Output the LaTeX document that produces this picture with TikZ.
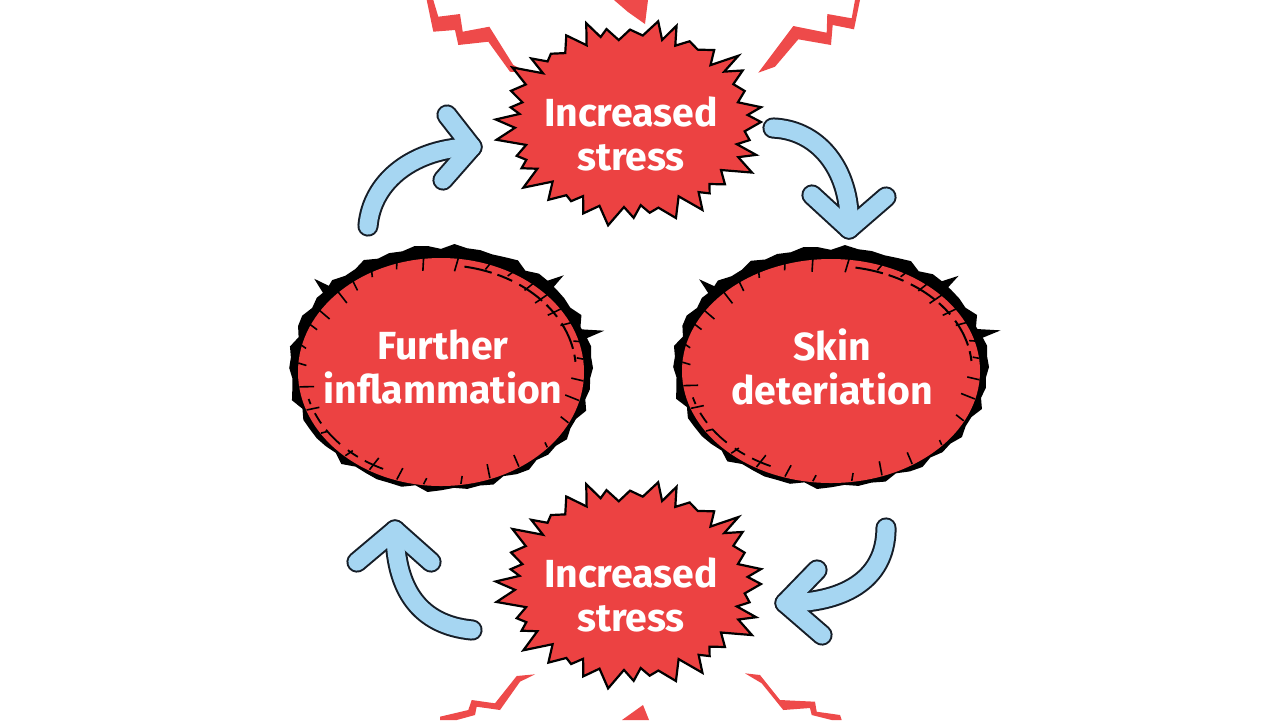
\documentclass[tikz,border=0pt]{standalone}
\usepackage{fontspec}
\setmainfont{Fira Sans}
\definecolor{burst}{RGB}{236,66,66}
\definecolor{bolt}{RGB}{238,74,74}
\definecolor{sky}{RGB}{166,214,242}
\definecolor{ink}{RGB}{22,30,40}
\newcommand\mkburst[4]{%
  \draw[burstshape] ({#1+#3},{#2})
    \foreach \i [evaluate=\i as \f using {mod(\i,2)==0 ? 1.0+0.07*sin(\i*131) : 0.87+0.03*cos(\i*71)}] in {1,...,71}
      { -- ({#1+#3*\f*cos(\i*5+1.5*sin(\i*53))},{#2+#4*\f*sin(\i*5+1.5*sin(\i*53))}) } -- cycle;}
\newcommand\mkblob[4]{%
  \fill[black] ({#1+#3+1},{#2-3})
    \foreach \i [evaluate=\i as \g using {1.0+0.015*sin(\i*211)+0.012*cos(\i*97)}] in {1,...,71}
      { -- ({#1+#3*\g*cos(\i*5)},{#2-3+#4*\g*sin(\i*5)}) } -- cycle;
  \fill[burst] (#1,{#2+1}) ellipse [x radius={#3-8}, y radius={#4-8}];
  \foreach \a in {192,203,211,223,231,240,251,262,276,289,299,309,317,326,334,344,353,4,14,26,41,56,69,81,96,107,119,131,146,159,171,183}
    \draw[black, line width=0.8pt] ({#1+(#3-18-5*sin(\a*7))*cos(\a)},{#2+(#4-18-5*sin(\a*7))*sin(\a)}) -- ({#1+(#3-8)*cos(\a+1)},{#2+(#4-8)*sin(\a+1)});
  \draw[black, line width=1pt, dash pattern=on 14pt off 3pt on 8pt off 4pt] ({#1+(#3-16)*cos(280)},{#2+(#4-16)*sin(280)}) arc [start angle=280, end angle=355, x radius={#3-16}, y radius={#4-16}];
  \draw[black, line width=0.9pt, dash pattern=on 10pt off 4pt on 6pt off 5pt] ({#1+(#3-14)*cos(115)},{#2+(#4-14)*sin(115)}) arc [start angle=115, end angle=165, x radius={#3-14}, y radius={#4-14}];
  \foreach \a in {222,316,343}
    \fill[black] ({#1+#3*0.96*cos(\a-4)},{#2+#4*0.96*sin(\a-4)}) -- ({#1+#3*1.13*cos(\a)},{#2+#4*1.13*sin(\a)}) -- ({#1+#3*0.96*cos(\a+2)},{#2+#4*0.96*sin(\a+2)}) -- cycle;}
\begin{document}
\begin{tikzpicture}[x=0.5pt,y=-0.5pt,
  burstshape/.style={fill=burst, draw=black, line width=1.1pt, line join=miter},
  boltshape/.style={fill=bolt, draw=none},
  arrowout/.style={draw=ink, line width=10.6pt, line cap=round, line join=round},
  arrowin/.style={draw=sky, line width=8.6pt, line cap=round, line join=round},
  lbl/.style={text=white, font=\fontsize{19.6}{22}\selectfont\bfseries, align=center, inner sep=0pt}]
\useasboundingbox (0,0) rectangle (1280,720);
\fill[white] (0,0) rectangle (1280,720);

% lightning bolts
\fill[boltshape] (426.7,0) -- (433.3,0) -- (438.3,16.7) -- (460,14) -- (462.7,31.7) -- (489.3,26.7) -- (513.3,65) -- (528.3,72.7) -- (510,71.7) -- (488.3,41.7) -- (458.3,45) -- (455,30) -- (433.3,31.7) -- cycle;
\fill[boltshape] (614,0) -- (648,0) -- (645,24) -- (628,12) -- cycle;
\fill[boltshape] (855,0) -- (860,0) -- (854,29.3) -- (832.7,25) -- (831,45) -- (798.3,39.3) -- (775,66.7) -- (758.3,72.7) -- (793.3,26) -- (826.7,32.7) -- (827.3,14) -- (851.7,18.3) -- cycle;
\fill[boltshape] (535,674.3) -- (516.7,676) -- (495,703.3) -- (471.7,700) -- (468.3,710) -- (440,716.7) -- (440,720) -- (456.7,720) -- (475,715) -- (476.7,706.7) -- (500,710) -- (520,681.7) -- cycle;
\fill[boltshape] (622,720) -- (643,705) -- (649,720) -- cycle;
\fill[boltshape] (745,673.3) -- (760,675) -- (780,700) -- (815,701.7) -- (816.7,711.7) -- (840,715) -- (841.7,720) -- (831.7,720) -- (811.7,715) -- (810,708) -- (783.3,710) -- (761.7,683.3) -- cycle;

% shapes
\mkburst{631}{122}{130}{98}
\mkburst{631}{584}{130}{99}
\mkblob{441}{371}{151}{122}
\mkblob{831}{370}{157}{120}

% labels
\node[lbl] (s1) at (631,134) {Increased\\stress};
\node[lbl] (s2) at (631,595) {Increased\\stress};
\node[lbl] (fi) at (443,367) {Further\\inflammation};
\node[lbl] (sd) at (832,367) {Skin\\deteriation};

% arrow anchors
\coordinate (a1t) at (368,226); \coordinate (a1h) at (472,147);
\coordinate (a1u) at (447,115); \coordinate (a1d) at (443,180);
\coordinate (a2t) at (773,128); \coordinate (a2h) at (849,229);
\coordinate (a2u) at (812,195); \coordinate (a2d) at (886,197);
\coordinate (a3t) at (886,528); \coordinate (a3h) at (785,603);
\coordinate (a3u) at (817,570); \coordinate (a3d) at (822,635);
\coordinate (a4t) at (472,630); \coordinate (a4h) at (395,530);
\coordinate (a4u) at (357,562); \coordinate (a4d) at (431,562);

\foreach \st in {arrowout,arrowin}{
  \draw[\st] (a1t) .. controls (372,180) and (415,148) .. (a1h);
  \draw[\st] (a1u) -- (a1h) -- (a1d);
  \draw[\st] (a2t) .. controls (822,130) and (852,175) .. (a2h);
  \draw[\st] (a2u) -- (a2h) -- (a2d);
  \draw[\st] (a3t) .. controls (886,582) and (840,603) .. (a3h);
  \draw[\st] (a3u) -- (a3h) -- (a3d);
  \draw[\st] (a4t) .. controls (420,625) and (395,590) .. (a4h);
  \draw[\st] (a4u) -- (a4h) -- (a4d);
}
\end{tikzpicture}
\end{document}
